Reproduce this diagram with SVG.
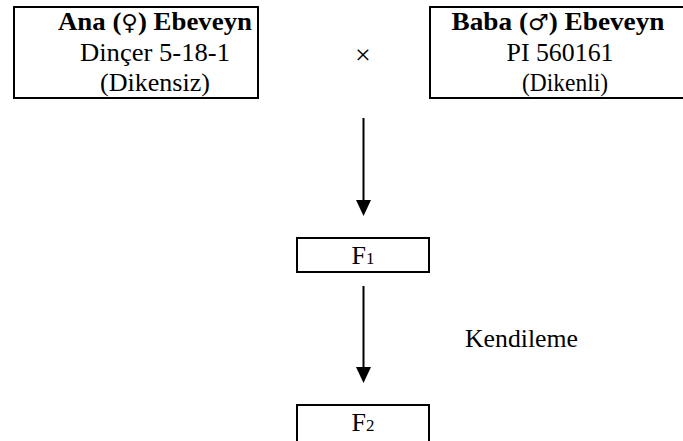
<svg xmlns="http://www.w3.org/2000/svg" width="683" height="441" viewBox="0 0 683 441">
<style>
.box{fill:#fff;stroke:#000;stroke-width:2}
.t{font-family:"Liberation Serif","Times New Roman",serif;font-size:26px;fill:#000;text-anchor:middle}
.b{font-weight:bold}
.sym{font-family:"DejaVu Sans",sans-serif;font-weight:normal;font-size:22px}
.line{stroke:#000;stroke-width:2;fill:none}
</style>
<rect width="683" height="441" fill="#fff"/>
<g id="mother">
<rect class="box" x="14" y="7" width="244" height="91"/>
<text class="t b" x="155" y="30" textLength="194" lengthAdjust="spacingAndGlyphs">Ana (<tspan class="sym">♀</tspan>) Ebeveyn</text>
<text class="t" x="155" y="61" textLength="150" lengthAdjust="spacingAndGlyphs">Dinçer 5-18-1</text>
<text class="t" x="155" y="91" textLength="110" lengthAdjust="spacingAndGlyphs">(Dikensiz)</text>
</g>
<g id="cross">
<text class="t" x="363" y="64" style="font-size:28px">×</text>
</g>
<g id="father">
<rect class="box" x="430" y="7" width="262" height="91"/>
<text class="t b" x="558" y="30" textLength="213" lengthAdjust="spacingAndGlyphs">Baba (<tspan class="sym">♂</tspan>) Ebeveyn</text>
<text class="t" x="560" y="61" textLength="107" lengthAdjust="spacingAndGlyphs">PI 560161</text>
<text class="t" x="565" y="91" textLength="86" lengthAdjust="spacingAndGlyphs">(Dikenli)</text>
</g>
<g id="f1">
<rect class="box" x="297" y="238" width="132" height="34"/>
<text class="t" x="363" y="264">F<tspan style="font-size:17px">1</tspan></text>
</g>
<g id="f2">
<rect class="box" x="297" y="405" width="132" height="50"/>
<text class="t" x="363" y="431">F<tspan style="font-size:17px">2</tspan></text>
</g>
<g id="connectors">
<line class="line" x1="363.5" y1="118" x2="363.5" y2="200"/>
<path d="M356,200 L371,200 L363.5,216 Z" fill="#000"/>
<line class="line" x1="363.5" y1="286" x2="363.5" y2="367"/>
<path d="M356,367 L371,367 L363.5,383 Z" fill="#000"/>
</g>
<g id="label">
<text class="t" x="521.5" y="347" textLength="113" lengthAdjust="spacingAndGlyphs">Kendileme</text>
</g>
</svg>
